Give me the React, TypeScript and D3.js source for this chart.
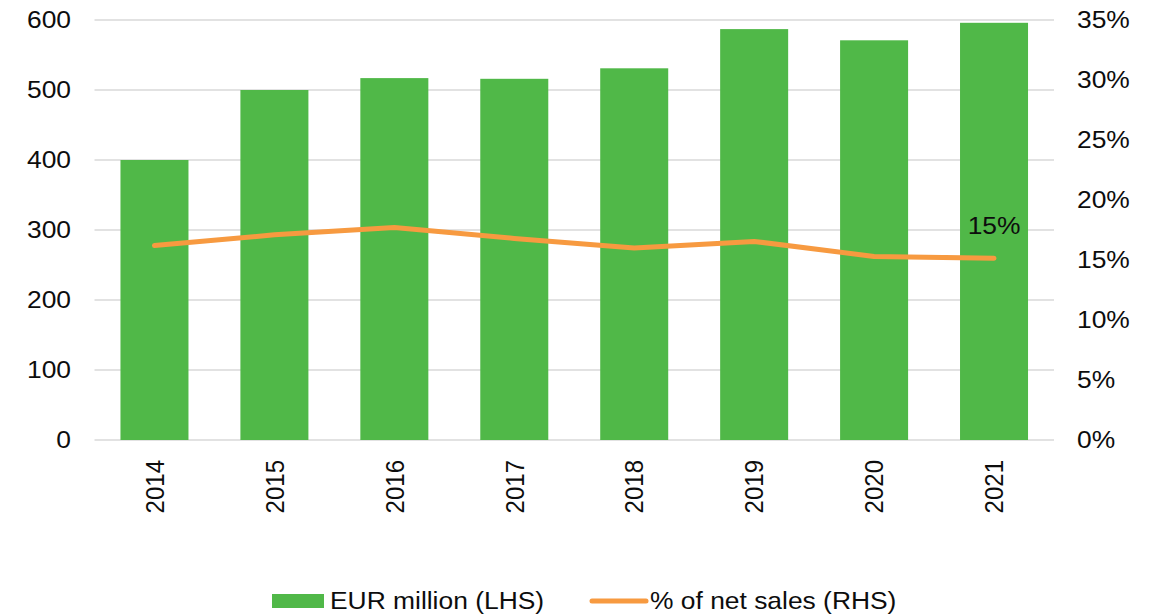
import React from "react";
import * as d3 from "d3";

const years = ["2014", "2015", "2016", "2017", "2018", "2019", "2020", "2021"];
const eurMillion = [400, 500, 517, 516, 531, 587, 571, 596];
const pctNetSales = [16.2, 17.1, 17.7, 16.8, 16.0, 16.55, 15.3, 15.15];
const leftTicks = [0, 100, 200, 300, 400, 500, 600];
const rightTicks = [0, 5, 10, 15, 20, 25, 30, 35];
const lastLabel = "15%";
const legendBar = "EUR million (LHS)";
const legendLine = "% of net sales (RHS)";

const W = 1159;
const H = 616;
const FONT = "'Liberation Sans', Arial, sans-serif";
const GREEN = "#50b848";
const ORANGE = "#f79a40";
const TEXT = "#0d0d0d";
const SX = 1.1;

function T(props: { x: number; y: number; anchor?: string; dy?: string; children: React.ReactNode; rot?: boolean }) {
  const { x, y, anchor = "start", dy = "0", children, rot } = props;
  return (
    <text
      transform={`translate(${x},${y}) scale(${SX},1)${rot ? " rotate(-90)" : ""}`}
      textAnchor={anchor}
      dy={dy}
      fontSize={24}
      fill={TEXT}
    >
      {children}
    </text>
  );
}

export default function App() {
  const left = 94.5;
  const right = 1054;
  const top = 20;
  const bottom = 440;

  const x = d3.scaleBand<string>().domain(years).range([left, right]).paddingInner(0.433).paddingOuter(0.2165);
  const yL = d3.scaleLinear().domain([0, 600]).range([bottom, top]);
  const yR = d3.scaleLinear().domain([0, 35]).range([bottom, top]);

  const line = d3
    .line<number>()
    .x((_, i) => (x(years[i]) as number) + x.bandwidth() / 2)
    .y((d) => yR(d));

  const lastIdx = years.length - 1;
  const lastX = (x(years[lastIdx]) as number) + x.bandwidth() / 2;

  return (
    <svg width={W} height={H} style={{ position: "absolute", left: 0, top: 0 }} fontFamily={FONT}>
      <rect x={0} y={0} width={W} height={H} fill="#ffffff" />
      {leftTicks.map((t) => (
        <line key={"g" + t} x1={left} x2={right} y1={yL(t)} y2={yL(t)} stroke="#d9d9d9" strokeWidth={1.5} />
      ))}
      {leftTicks.map((t) => (
        <T key={"l" + t} x={71} y={yL(t)} dy="0.35em" anchor="end">
          {t}
        </T>
      ))}
      {rightTicks.map((t) => (
        <T key={"r" + t} x={1077} y={yR(t)} dy="0.35em" anchor="start">
          {t + "%"}
        </T>
      ))}
      {years.map((yr, i) => (
        <rect
          key={"b" + yr}
          x={x(yr)}
          y={yL(eurMillion[i])}
          width={x.bandwidth()}
          height={bottom - yL(eurMillion[i])}
          fill={GREEN}
        />
      ))}
      <path d={line(pctNetSales) || ""} fill="none" stroke={ORANGE} strokeWidth={5} strokeLinecap="round" strokeLinejoin="round" />
      <T x={lastX} y={234} anchor="middle">
        {lastLabel}
      </T>
      {years.map((yr) => {
        const cx = (x(yr) as number) + x.bandwidth() / 2;
        return (
          <T key={"x" + yr} x={cx} y={460} anchor="end" dy="0.35em" rot>
            {yr}
          </T>
        );
      })}
      <rect x={272} y={594} width={52} height={14} fill={GREEN} />
      <T x={330} y={601} dy="0.35em">
        {legendBar}
      </T>
      <line x1={592} x2={646} y1={601} y2={601} stroke={ORANGE} strokeWidth={5} strokeLinecap="round" />
      <T x={650} y={601} dy="0.35em">
        {legendLine}
      </T>
    </svg>
  );
}
